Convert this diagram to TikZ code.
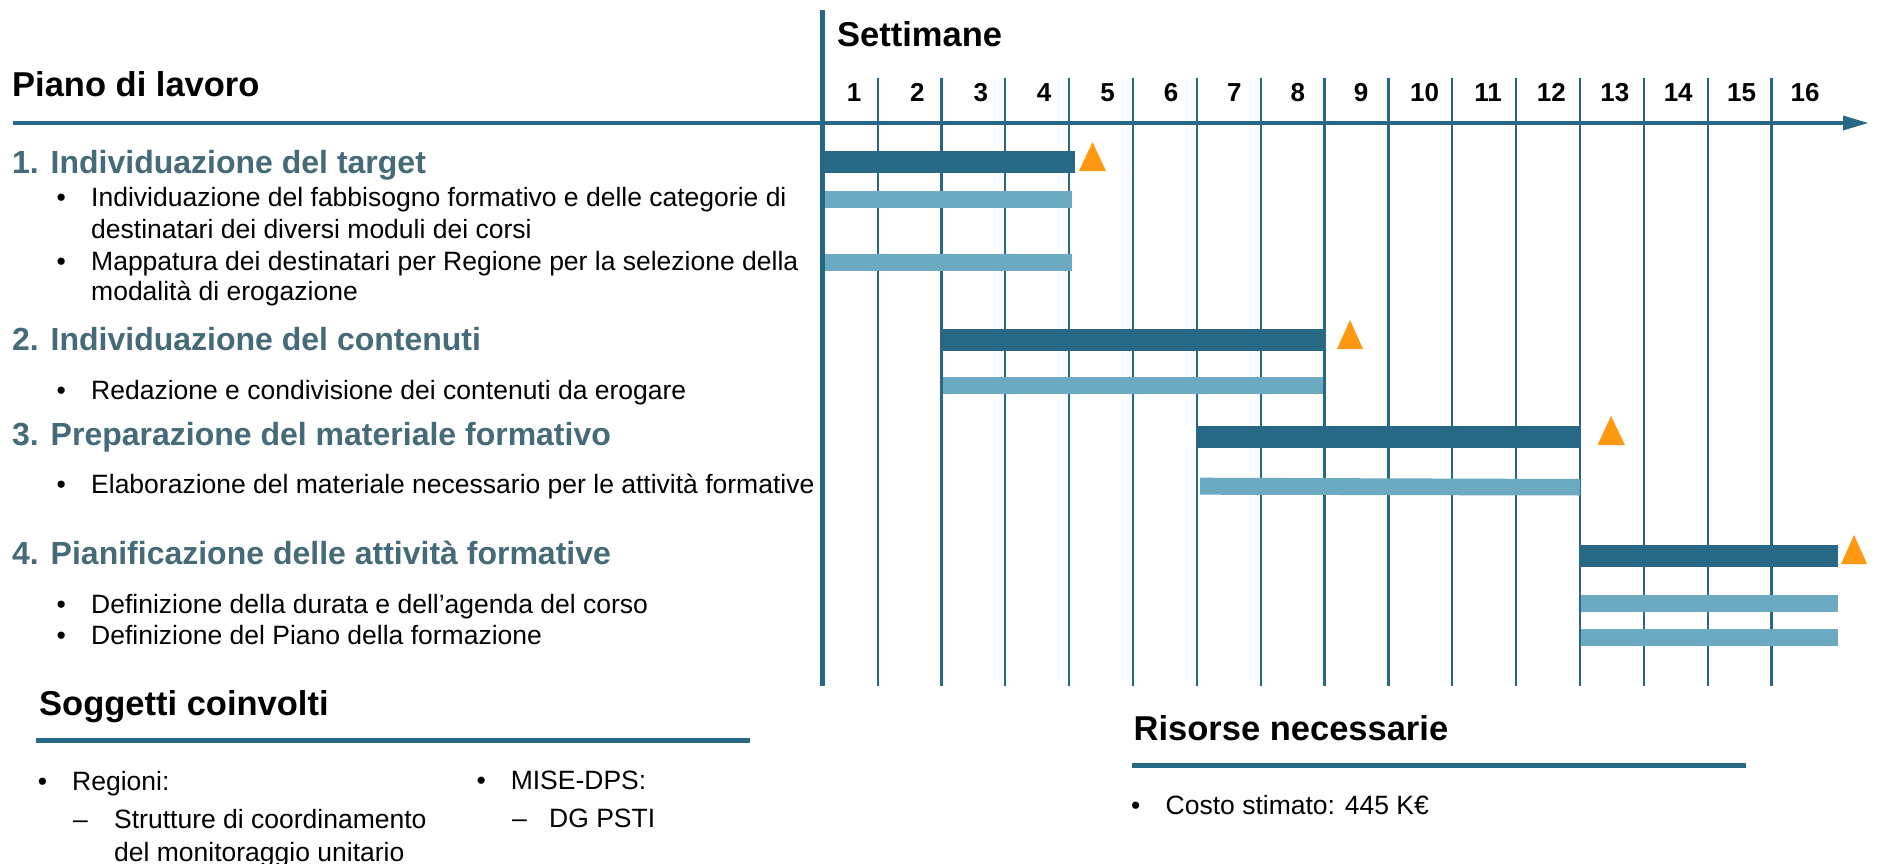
\documentclass[tikz,border=0pt]{standalone}
\usepackage{fontspec}
\setmainfont{Liberation Sans}
\definecolor{dteal}{RGB}{38,104,134}
\definecolor{lteal}{RGB}{107,170,192}
\definecolor{hteal}{RGB}{69,106,120}
\definecolor{orng}{RGB}{255,153,18}
\begin{document}
\begin{tikzpicture}[x=1pt,y=-1pt,
  body/.style={anchor=base west,inner sep=0,font=\fontsize{26.5}{31.5}\selectfont},
  headtxt/.style={anchor=base west,inner sep=0,font=\fontsize{32}{38}\selectfont\bfseries,text=hteal},
  sect/.style={anchor=base west,inner sep=0,font=\fontsize{34.5}{40}\selectfont\bfseries},
  wk/.style={anchor=base,inner sep=0,font=\fontsize{26}{30}\selectfont\bfseries},
  dbar/.style={fill=dteal},
  lbar/.style={fill=lteal},
  ms/.style={fill=orng},
  grid/.style={draw=dteal,line width=2.2pt},
  rule/.style={draw=dteal,line width=4.3pt},
]
\useasboundingbox (0,0) rectangle (1878,864);
\fill[white] (0,0) rectangle (1878,864);
% grid lines
\foreach \k in {0,...,14} \draw[grid] ({877.7+63.84*\k},78) -- ({877.7+63.84*\k},686);
% bars
\fill[dbar] (820,151) rectangle (1075,172.7);
\fill[lbar] (822,191) rectangle (1072,207.7);
\fill[lbar] (824,254) rectangle (1072,270.7);
\fill[dbar] (943,329) rectangle (1323,350.7);
\fill[lbar] (943,377) rectangle (1323,393.7);
\fill[dbar] (1197,426) rectangle (1581,447.7);
\fill[lbar] (1200,477.7) -- (1580,479) -- (1580,495.5) -- (1200,494.7) -- cycle;
\fill[dbar] (1580,545) rectangle (1838,566.7);
\fill[lbar] (1581,595) rectangle (1838,611.7);
\fill[lbar] (1581,629) rectangle (1838,645.7);
% milestones
\fill[ms] (1079,171) -- (1092.5,142) -- (1106,171) -- cycle;
\fill[ms] (1337,349) -- (1350,320) -- (1363,349) -- cycle;
\fill[ms] (1597.5,445) -- (1611,416) -- (1625,445) -- cycle;
\fill[ms] (1841,564) -- (1854,535) -- (1867,564) -- cycle;
% axes
\draw[dteal,line width=5pt] (822.5,10) -- (822.5,686);
\draw[rule] (13,123) -- (1846,123);
\fill[dteal] (1843,115.5) -- (1868,123) -- (1843,130.5) -- cycle;
% week labels
\foreach \k in {1,...,16} \node[wk] (w\k) at ({854+63.4*(\k-1)},101.7) {\k};
\node[sect] (sett) at (837,46.7) {Settimane};
\node[sect] (piano) at (12,96.7) {Piano di lavoro};
% tasks
\node[headtxt] (h1) at (12,173.3) {1. Individuazione del target};
\node[body] (b1) at (56.4,206.7) {•};
\node[body] (t1a) at (91,206.7) {Individuazione del fabbisogno formativo e delle categorie di};
\node[body] (t1b) at (91,238.3) {destinatari dei diversi moduli dei corsi};
\node[body] (b2) at (56.4,270) {•};
\node[body] (t2a) at (91,270) {Mappatura dei destinatari per Regione per la selezione della};
\node[body] (t2b) at (91,300.7) {modalità di erogazione};
\node[headtxt] (h2) at (12,350.7) {2. Individuazione del contenuti};
\node[body] (b3) at (56.4,399.3) {•};
\node[body] (t3) at (91,399.3) {Redazione e condivisione dei contenuti da erogare};
\node[headtxt] (h3) at (12,445) {3. Preparazione del materiale formativo};
\node[body] (b4) at (56.4,493.3) {•};
\node[body] (t4) at (91,493.3) {Elaborazione del materiale necessario per le attività formative};
\node[headtxt] (h4) at (12,564) {4. Pianificazione delle attività formative};
\node[body] (b5) at (56.4,613.3) {•};
\node[body] (t5) at (91,613.3) {Definizione della durata e dell’agenda del corso};
\node[body] (b6) at (56.4,644.3) {•};
\node[body] (t6) at (91,644.3) {Definizione del Piano della formazione};
% soggetti
\node[sect] (sogg) at (39,715) {Soggetti coinvolti};
\draw[rule] (36,740.5) -- (750,740.5);
\node[body] (sb1) at (37.7,790) {•};
\node[body] (st1) at (72,790) {Regioni:};
\node[body] (sd1) at (73,828.3) {–};
\node[body] (st2) at (114,828.3) {Strutture di coordinamento};
\node[body] (st3) at (114,861.7) {del monitoraggio unitario};
\node[body] (sb2) at (476.4,789.5) {•};
\node[body] (st4) at (510.6,789.5) {MISE-DPS:};
\node[body] (sd2) at (512,827.7) {–};
\node[body] (st5) at (549,827.7) {DG PSTI};
% risorse
\node[sect] (ris) at (1133.5,740.7) {Risorse necessarie};
\draw[rule] (1132,765.5) -- (1746,765.5);
\node[body] (rb) at (1131,814.3) {•};
\node[body] (rt) at (1165.5,814.3) {Costo stimato: 445 K€};
\end{tikzpicture}
\end{document}
